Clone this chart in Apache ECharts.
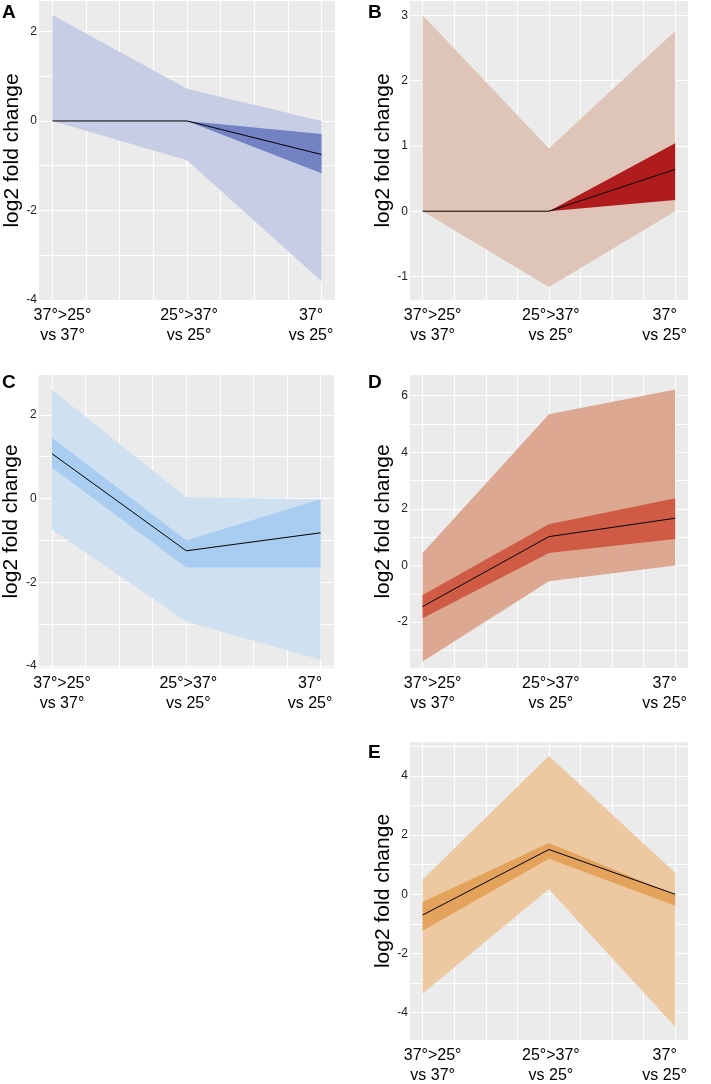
<!DOCTYPE html>
<html><head><meta charset="utf-8">
<script src="https://cdn.jsdelivr.net/npm/echarts@6/dist/echarts.min.js"></script>
<style>html,body{margin:0;padding:0;background:#fff}#c{width:711px;height:1084px}</style>
</head><body><div id="c"></div>
<script>
// ---- data ----
const xPositions = [1, 2, 3];
const xLabelTop = ['37°>25°', '25°>37°', '37°'];
const xLabelBottom = ['vs 37°', 'vs 25°', 'vs 25°'];
const yAxisTitle = 'log2 fold change';

// Panel A
const aOuterLower = [0, -0.88, -3.58];
const aOuterUpper = [2.37, 0.72, 0];
const aInnerLower = [0, 0, -1.17];
const aInnerUpper = [0, 0, -0.29];
const aMedian = [0, 0, -0.75];
const aTickLabels = [-4, -2, 0, 2];

// Panel B
const bOuterLower = [0, -1.16, 0];
const bOuterUpper = [3.0, 0.96, 2.76];
const bInnerLower = [0, 0, 0.17];
const bInnerUpper = [0, 0, 1.04];
const bMedian = [0, 0, 0.64];
const bTickLabels = [-1, 0, 1, 2, 3];

// Panel C
const cOuterLower = [-0.74, -2.94, -3.85];
const cOuterUpper = [2.59, 0.03, -0.02];
const cInnerLower = [0.74, -1.65, -1.65];
const cInnerUpper = [1.45, -1.0, -0.02];
const cMedian = [1.07, -1.25, -0.82];
const cTickLabels = [-4, -2, 0, 2];

// Panel D
const dOuterLower = [-3.39, -0.56, 0.0];
const dOuterUpper = [0.44, 5.34, 6.22];
const dInnerLower = [-1.86, 0.44, 0.94];
const dInnerUpper = [-1.04, 1.46, 2.38];
const dMedian = [-1.45, 1.02, 1.67];
const dTickLabels = [-2, 0, 2, 4, 6];

// Panel E
const eOuterLower = [-3.35, 0.17, -4.47];
const eOuterUpper = [0.50, 4.67, 0.73];
const eInnerLower = [-1.23, 1.2, -0.39];
const eInnerUpper = [-0.26, 1.73, -0.02];
const eMedian = [-0.70, 1.51, 0];
const eTickLabels = [-4, -2, 0, 2, 4];

const panelLetters = ['A', 'B', 'C', 'D', 'E'];

// ---- layout / styles ----
const FONT = "'Liberation Sans', Arial, Helvetica, sans-serif";
const panels = [
  {letter: panelLetters[0], grid: {left: 39, top: 1, width: 296, height: 299}, ymin: -4, ymax: 2.68,
   ol: aOuterLower, ou: aOuterUpper, il: aInnerLower, iu: aInnerUpper, med: aMedian, labels: aTickLabels,
   outer: '#c7cde4', inner: '#7282c3', lpos: [2, 3]},
  {letter: panelLetters[1], grid: {left: 410, top: 1, width: 298, height: 299}, ymin: -1.36, ymax: 3.22,
   ol: bOuterLower, ou: bOuterUpper, il: bInnerLower, iu: bInnerUpper, med: bMedian, labels: bTickLabels,
   outer: '#dec5b8', inner: '#b01c1e', lpos: [368, 3]},
  {letter: panelLetters[2], grid: {left: 38, top: 375, width: 296, height: 293}, ymin: -4.05, ymax: 2.95,
   ol: cOuterLower, ou: cOuterUpper, il: cInnerLower, iu: cInnerUpper, med: cMedian, labels: cTickLabels,
   outer: '#cfe0f1', inner: '#a9cdf0', lpos: [2, 373]},
  {letter: panelLetters[3], grid: {left: 410, top: 375, width: 298, height: 293}, ymin: -3.62, ymax: 6.73,
   ol: dOuterLower, ou: dOuterUpper, il: dInnerLower, iu: dInnerUpper, med: dMedian, labels: dTickLabels,
   outer: '#dca892', inner: '#d05b44', lpos: [368, 373]},
  {letter: panelLetters[4], grid: {left: 410, top: 742, width: 298, height: 300}, ymin: -4.92, ymax: 5.14,
   ol: eOuterLower, ou: eOuterUpper, il: eInnerLower, iu: eInnerUpper, med: eMedian, labels: eTickLabels,
   outer: '#ecc9a0', inner: '#e4a35d', lpos: [368, 743]}
];

const grids = [], xAxes = [], yAxes = [], series = [], titles = [];
const xGridValues = [1, 1.25, 1.5, 1.75, 2, 2.25, 2.5, 2.75, 3];
const labelRich = {
  p1: {padding: [0, 0, 0, 20], fontSize: 16, lineHeight: 20, fontFamily: FONT, color: '#000'},
  p2: {padding: [0, 0, 0, 4], fontSize: 16, lineHeight: 20, fontFamily: FONT, color: '#000'},
  p3: {padding: [0, 21, 0, 0], fontSize: 16, lineHeight: 20, fontFamily: FONT, color: '#000'}
};

function ribbonSeries(gi, lower, upper, color) {
  return {
    type: 'custom', xAxisIndex: gi, yAxisIndex: gi, silent: true, animation: false,
    data: xPositions.map((x, i) => [x, lower[i], upper[i]]),
    renderItem: function (params, api) {
      if (params.dataIndex !== 0) return null;
      const pts = [];
      xPositions.forEach((x, i) => pts.push(api.coord([x, upper[i]])));
      for (let i = xPositions.length - 1; i >= 0; i--) pts.push(api.coord([xPositions[i], lower[i]]));
      return {type: 'polygon', shape: {points: pts}, style: {fill: color, stroke: null}};
    },
    encode: {x: 0, y: [1, 2]}
  };
}

panels.forEach((p, gi) => {
  grids.push(Object.assign({show: true, backgroundColor: '#ebebeb', borderWidth: 0}, p.grid));
  const yGridValues = [];
  for (let v = Math.ceil(p.ymin); v <= Math.floor(p.ymax); v++) yGridValues.push(v);
  xAxes.push({
    type: 'value', gridIndex: gi, min: 0.9, max: 3.1,
    axisLine: {show: false},
    axisTick: {show: false, customValues: xGridValues},
    splitLine: {show: true, lineStyle: {color: '#ffffff', width: 1}},
    axisLabel: {
      customValues: xPositions, margin: 6, fontSize: 16, fontFamily: FONT, color: '#000',
      formatter: function (v) {
        const i = xPositions.indexOf(v);
        const k = 'p' + (i + 1);
        return '{' + k + '|' + xLabelTop[i] + '}\n{' + k + '|' + xLabelBottom[i] + '}';
      },
      rich: labelRich
    }
  });
  yAxes.push({
    type: 'value', gridIndex: gi, min: p.ymin, max: p.ymax,
    name: yAxisTitle, nameLocation: 'middle', nameGap: 10,
    nameTextStyle: {fontSize: 21, fontFamily: FONT, color: '#000'},
    axisLine: {show: false},
    axisTick: {show: false, customValues: yGridValues},
    splitLine: {show: true, lineStyle: {color: '#ffffff', width: 1}},
    axisLabel: {customValues: p.labels, margin: 2, fontSize: 12, fontFamily: FONT, color: '#222'}
  });
  series.push(ribbonSeries(gi, p.ol, p.ou, p.outer));
  series.push(ribbonSeries(gi, p.il, p.iu, p.inner));
  series.push({
    type: 'line', xAxisIndex: gi, yAxisIndex: gi, symbol: 'none', silent: true, animation: false,
    emphasis: {disabled: true},
    data: xPositions.map((x, i) => [x, p.med[i]]),
    lineStyle: {color: '#000', width: 1}, z: 3
  });
  titles.push({text: p.letter, left: p.lpos[0], top: p.lpos[1], padding: 0,
    textStyle: {fontSize: 19, fontWeight: 'bold', fontFamily: FONT, color: '#000'}});
});

const chart = echarts.init(document.getElementById('c'), null, {renderer: 'canvas'});
chart.setOption({
  animation: false,
  backgroundColor: '#ffffff',
  title: titles,
  grid: grids,
  xAxis: xAxes,
  yAxis: yAxes,
  series: series
});
</script>
</body></html>
